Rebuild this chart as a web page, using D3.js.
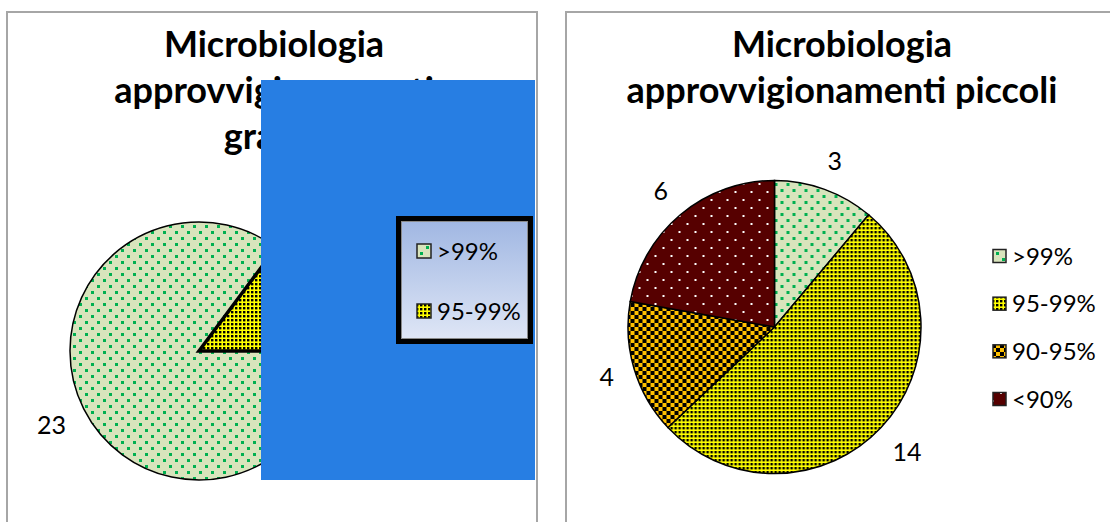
<!DOCTYPE html>
<html>
<head>
<meta charset="utf-8">
<script src="https://cdn.jsdelivr.net/npm/d3@7/dist/d3.min.js"></script>
<style>
  html, body { margin: 0; padding: 0; background: #fff; }
  svg { display: block; }
  text { font-family: Lato, "Open Sans", sans-serif; fill: #000; }
</style>
</head>
<body>
<svg id="chart" width="1110" height="522"></svg>
<script>
// ---- DATA ----
const categoriesGrandi = [">99%", "95-99%"];
const valuesGrandi = [23, 4];
const titleGrandi = ["Microbiologia", "approvvigionamenti", "grandi"];

const categoriesPiccoli = [">99%", "95-99%", "90-95%", "<90%"];
const valuesPiccoli = [3, 14, 4, 6];
const titlePiccoli = ["Microbiologia", "approvvigionamenti piccoli"];

const allCategories = [">99%", "95-99%", "90-95%", "<90%"];
const patternIds = ["pGreen", "pYellow", "pOrange", "pRed"];

// ---- SETUP ----
const svg = d3.select("#chart");
const defs = svg.append("defs");

function pat(id, w, h, bg, draw) {
  const p = defs.append("pattern").attr("id", id)
    .attr("patternUnits", "userSpaceOnUse").attr("width", w).attr("height", h);
  p.append("rect").attr("width", w).attr("height", h).attr("fill", bg);
  draw(p);
}
pat("pGreen", 12, 12, "#d8e4bc", p => {
  [[0,0],[6,6]].forEach(([x,y]) => p.append("rect").attr("x", x).attr("y", y).attr("width", 3).attr("height", 3).attr("fill", "#00b050"));
});
pat("pYellow", 4, 4, "#ffff00", p => {
  p.append("rect").attr("x", 0).attr("y", 0).attr("width", 2.4).attr("height", 2.4).attr("fill", "#000");
});
pat("pOrange", 8, 8, "#ffc000", p => {
  p.append("rect").attr("x", 0).attr("y", 0).attr("width", 4).attr("height", 4).attr("fill", "#000");
  p.append("rect").attr("x", 4).attr("y", 4).attr("width", 4).attr("height", 4).attr("fill", "#000");
});
pat("pRed", 16, 16, "#560000", p => {
  [[0,0],[8,8]].forEach(([x,y]) => p.append("rect").attr("x", x).attr("y", y).attr("width", 2).attr("height", 2).attr("fill", "#fff"));
});

const grad = defs.append("linearGradient").attr("id", "legGrad")
  .attr("x1", 0).attr("y1", 0).attr("x2", 0).attr("y2", 1);
grad.append("stop").attr("offset", "0%").attr("stop-color", "#9fb6e2");
grad.append("stop").attr("offset", "100%").attr("stop-color", "#e0e7f6");

const fillScale = d3.scaleOrdinal().domain(allCategories).range(patternIds.map(id => `url(#${id})`));

// frames
svg.append("rect").attr("x", 7).attr("y", 12).attr("width", 530).attr("height", 540)
  .attr("fill", "#fff").attr("stroke", "#a6a6a6").attr("stroke-width", 2);
svg.append("rect").attr("x", 566).attr("y", 12).attr("width", 600).attr("height", 540)
  .attr("fill", "#fff").attr("stroke", "#a6a6a6").attr("stroke-width", 2);

// title font fit
const TITLE_TARGET = 431; // width of "approvvigionamenti piccoli"
const probe = svg.append("text").attr("font-weight", "bold").attr("font-size", 30).text(titlePiccoli[1]);
const titleSize = 30 * TITLE_TARGET / probe.node().getComputedTextLength();
probe.remove();

function drawTitle(lines, cx, firstBase, step) {
  const t = svg.append("g");
  lines.forEach((l, i) => {
    t.append("text").attr("x", cx).attr("y", firstBase + i * step)
      .attr("text-anchor", "middle").attr("font-weight", "bold")
      .attr("font-size", titleSize).text(l);
  });
}

function drawPie(cats, vals, cx, cy, r, startAngle, strokeWidths) {
  const data = cats.map((c, i) => ({ cat: c, value: vals[i], sw: strokeWidths[i] }));
  const pie = d3.pie().sort(null).value(d => d.value)
    .startAngle(startAngle).endAngle(startAngle + 2 * Math.PI);
  const arc = d3.arc().innerRadius(0).outerRadius(r);
  const arcs = pie(data);
  const g = svg.append("g").attr("transform", `translate(${cx},${cy})`);
  const order = arcs.slice().sort((a, b) => a.data.sw - b.data.sw);
  g.selectAll("path").data(order).join("path")
    .attr("d", arc)
    .attr("fill", d => fillScale(d.data.cat))
    .attr("stroke", "#000")
    .attr("stroke-width", d => d.data.sw)
    .attr("stroke-linejoin", "miter");
  const fs = 25, pad = 19;
  arcs.forEach(a => {
    const mid = (a.startAngle + a.endAngle) / 2;
    const dx = Math.sin(mid), dy = -Math.cos(mid);
    const t = g.append("text").attr("font-size", fs).attr("text-anchor", "middle").text(a.data.value);
    const w = t.node().getComputedTextLength();
    const h = fs * 0.72;
    const R = r + pad + (w / 2) * Math.abs(dx) + (h / 2) * Math.abs(dy);
    t.attr("x", R * dx).attr("y", R * dy + h / 2);
  });
}

function drawLegend(cats, x, ys, sw, fs) {
  const g = svg.append("g");
  cats.forEach((c, i) => {
    g.append("rect").attr("x", x).attr("y", ys(c) - sw / 2).attr("width", sw).attr("height", sw)
      .attr("fill", fillScale(c)).attr("stroke", "#222").attr("stroke-width", 1.5);
    g.append("text").attr("x", x + sw + 6).attr("y", ys(c) + fs * 0.36)
      .attr("font-size", fs).text(c);
  });
}

// ---- LEFT CHART ----
drawTitle(titleGrandi, 274, 57, 46);
drawPie(categoriesGrandi, valuesGrandi, 199, 351, 129, Math.PI / 2, [1.5, 3.5]);

svg.append("rect").attr("x", 261).attr("y", 80).attr("width", 274).attr("height", 400).attr("fill", "#277ee3");
svg.append("rect").attr("x", 398.5).attr("y", 218.5).attr("width", 132).attr("height", 123)
  .attr("fill", "url(#legGrad)").attr("stroke", "#000").attr("stroke-width", 5);
svg.append("rect").attr("x", 401.5).attr("y", 221.5).attr("width", 126).attr("height", 117)
  .attr("fill", "none").attr("stroke", "#8a8a8a").attr("stroke-width", 1);
const yLeftLeg = d3.scalePoint().domain(categoriesGrandi).range([251, 311]);
drawLegend(categoriesGrandi, 417, yLeftLeg, 14, 24);

// ---- RIGHT CHART ----
drawTitle(titlePiccoli, 842, 57, 46);
drawPie(categoriesPiccoli, valuesPiccoli, 774.5, 327, 146.5, 0, [1.5, 1.5, 1.5, 1.5]);
const yRightLeg = d3.scalePoint().domain(categoriesPiccoli).range([256, 399]);
drawLegend(categoriesPiccoli, 993, yRightLeg, 13, 24);
</script>
</body>
</html>
